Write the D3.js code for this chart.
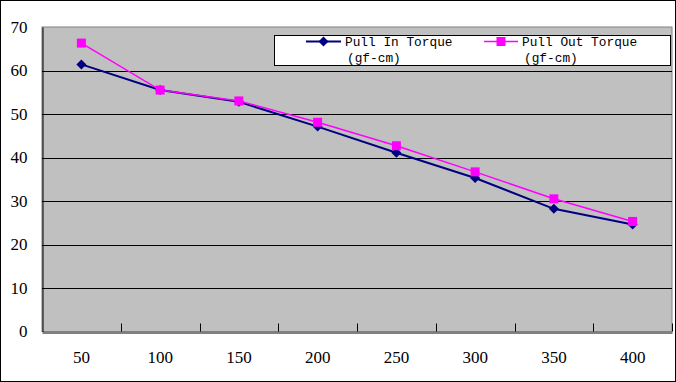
<!DOCTYPE html>
<html><head><meta charset="utf-8">
<script src="https://cdn.jsdelivr.net/npm/d3@7"></script>
<style>body{margin:0;background:#fff}svg{display:block}</style>
</head><body><svg id="c" width="676" height="382"></svg>
<script>
const categories = ["50","100","150","200","250","300","350","400"];
const pullIn = [61.4, 55.5, 52.8, 47.1, 41.1, 35.3, 28.2, 24.6];
const pullOut = [66.3, 55.5, 53.0, 48.1, 42.7, 36.7, 30.5, 25.3];
const yTicks = [0,10,20,30,40,50,60,70];
const seriesNames = [["Pull In Torque","(gf-cm)"],["Pull Out Torque","(gf-cm)"]];

const SERIF = "'Liberation Serif', 'DejaVu Serif', serif";
const MONO = "'Liberation Mono', 'DejaVu Sans Mono', monospace";
const svg = d3.select("#c");
const L=42, R=672, T=27, B=331.5;
svg.append("rect").attr("x",0.5).attr("y",0.5).attr("width",675).attr("height",381).attr("fill","#fff").attr("stroke","#000");
const x = d3.scaleBand().domain(categories).range([L,R]);
const y = d3.scaleLinear().domain([0,70]).range([B,T]);

svg.append("rect").attr("x",L).attr("y",T).attr("width",R-L).attr("height",B-T).attr("fill","#c0c0c0").attr("stroke","#808080");
svg.append("g").selectAll("line").data(yTicks.filter(d=>d>0&&d<70)).join("line")
  .attr("x1",L).attr("x2",R).attr("y1",d=>Math.round(y(d))+0.5).attr("y2",d=>Math.round(y(d))+0.5)
  .attr("stroke","#000");
const ya = svg.append("g").attr("transform",`translate(${L+0.5},0)`)
  .call(d3.axisLeft(y).tickValues(yTicks).tickSize(0).tickPadding(15));
ya.attr("font-family",SERIF).attr("font-size",17);
ya.select(".domain").attr("stroke","#000");
ya.selectAll("text").style("font-family",SERIF).style("font-size","17px").attr("fill","#000");
const xa = svg.append("g").attr("transform",`translate(0,${Math.round(B)+0.5})`)
  .call(d3.axisBottom(x).tickSize(0).tickPadding(18));
xa.attr("font-family",SERIF).attr("font-size",17);
xa.select(".domain").attr("stroke","#000");
xa.selectAll("text").style("font-family",SERIF).style("font-size","17px").attr("fill","#000");
svg.append("g").selectAll("line").data(categories.slice(1).concat(["end"])).join("line")
  .attr("x1",d=>Math.round(d==="end"?R:x(d))+0.5).attr("x2",d=>Math.round(d==="end"?R:x(d))+0.5)
  .attr("y1",B).attr("y2",B-8).attr("stroke","#000");

const line = d3.line().x((d,i)=>x(categories[i])+x.bandwidth()/2).y(d=>y(d));
svg.append("path").datum(pullIn).attr("d",line).attr("fill","none").attr("stroke","#000080").attr("stroke-width",2);
svg.append("path").datum(pullOut).attr("d",line).attr("fill","none").attr("stroke","#ff00ff").attr("stroke-width",1.5);
const diamond = (cx,cy,s)=>`M${cx},${cy-s}L${cx+s},${cy}L${cx},${cy+s}L${cx-s},${cy}Z`;
svg.append("g").selectAll("path").data(pullIn).join("path")
  .attr("d",(d,i)=>diamond(x(categories[i])+x.bandwidth()/2,y(d),5)).attr("fill","#000080");
svg.append("g").selectAll("rect").data(pullOut).join("rect")
  .attr("x",(d,i)=>x(categories[i])+x.bandwidth()/2-4.5).attr("y",d=>y(d)-4.5)
  .attr("width",9).attr("height",9).attr("fill","#ff00ff");

svg.append("rect").attr("x",274.5).attr("y",35.5).attr("width",396).attr("height",30).attr("fill","#fff").attr("stroke","#000");
const leg = [{x0:306,x1:341,tx:345,c:"#000080",m:"d"},{x0:484,x1:518,tx:522,c:"#ff00ff",m:"s"}];
leg.forEach((l,i)=>{
  svg.append("line").attr("x1",l.x0).attr("x2",l.x1).attr("y1",41.5).attr("y2",41.5).attr("stroke",l.c).attr("stroke-width",i?1.5:2);
  const cx=(l.x0+l.x1)/2;
  if(l.m==="d") svg.append("path").attr("d",diamond(cx,41.5,5)).attr("fill",l.c);
  else svg.append("rect").attr("x",cx-4.5).attr("y",37).attr("width",9).attr("height",9).attr("fill",l.c);
  svg.append("text").attr("x",l.tx).attr("y",46).text(seriesNames[i][0])
    .style("font-family",MONO).style("font-size","12.8px").attr("fill","#000");
  svg.append("text").attr("x",l.tx+2).attr("y",62).text(seriesNames[i][1])
    .style("font-family",MONO).style("font-size","12.8px").attr("fill","#000");
});
</script></body></html>
